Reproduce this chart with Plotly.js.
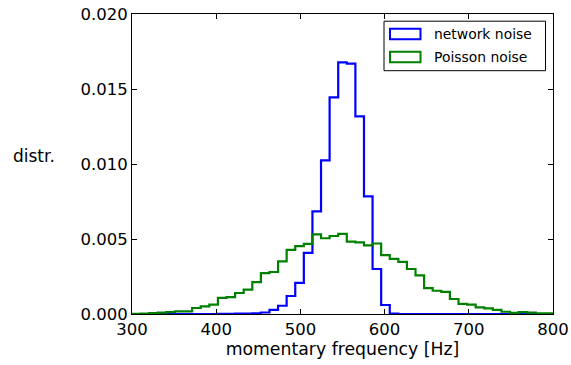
<!DOCTYPE html>
<html>
<head>
<meta charset="utf-8">
<script src="https://cdn.plot.ly/plotly-3.0.1.min.js"></script>
<style>html,body{margin:0;padding:0;background:#fff;}#chart{width:571px;height:365px;}</style>
</head>
<body>
<div id="chart"></div>
<script>
// Histogram bins: 49 equal bins between 300 and 800 Hz
var binStart = 300;
var binEnd = 800;
var binCount = 49;

// Normalised counts per bin
var networkNoise = [
  0, 0, 0, 0, 0, 0, 0, 0, 0, 0,
  0.00001, 0.00001, 0.00002, 0.00002, 0.00004,
  0.00010, 0.00027, 0.00055, 0.00120, 0.00207,
  0.00407, 0.00684, 0.01024, 0.01444, 0.01677,
  0.01669, 0.01317, 0.00784, 0.00300, 0.00060,
  0.00002, 0, 0, 0, 0, 0, 0, 0, 0, 0,
  0, 0, 0, 0, 0, 0, 0, 0, 0
];
var poissonNoise = [
  0.00001, 0.00002, 0.00006, 0.00009, 0.00013, 0.00018, 0.00018, 0.00040, 0.00051, 0.00062,
  0.00107, 0.00113, 0.00140, 0.00162, 0.00213, 0.00273, 0.00280, 0.00351, 0.00427, 0.00452,
  0.00467, 0.00531, 0.00505, 0.00520, 0.00534, 0.00482, 0.00477, 0.00457, 0.00470, 0.00393,
  0.00367, 0.00347, 0.00300, 0.00257, 0.00173, 0.00155, 0.00147, 0.00100, 0.00067, 0.00062,
  0.00044, 0.00037, 0.00027, 0.00015, 0.00007, 0.00013, 0.00009, 0.00004, 0.00004
];
var seriesNames = ["network noise", "Poisson noise"];
var xTicks = [300, 400, 500, 600, 700, 800];
var yTicks = [0, 0.005, 0.010, 0.015, 0.020];

var binWidth = (binEnd - binStart) / binCount;
var edges = [];
for (var i = 0; i <= binCount; i++) edges.push(binStart + i * binWidth);

function stepOutline(vals) {
  var xs = [edges[0]], ys = [0];
  for (var k = 0; k < vals.length; k++) { xs.push(edges[k]); ys.push(vals[k]); }
  xs.push(edges[vals.length]); ys.push(vals[vals.length - 1]);
  xs.push(edges[vals.length]); ys.push(0);
  return {x: xs, y: ys};
}

var colors = ["#0000ff", "#008000"];
var s1 = stepOutline(networkNoise), s2 = stepOutline(poissonNoise);
var traces = [
  {x: s1.x, y: s1.y, type: "scatter", mode: "lines", line: {shape: "hv", color: colors[0], width: 2.2}, name: seriesNames[0], showlegend: false, hoverinfo: "skip"},
  {x: s2.x, y: s2.y, type: "scatter", mode: "lines", line: {shape: "hv", color: colors[1], width: 2.2}, name: seriesNames[1], showlegend: false, hoverinfo: "skip"}
];

// plot area in pixels
var L = 132, R = 553, T = 14.3, B = 314.3;
function px(x) { return (x - L) / (R - L); }
function py(y) { return (B - y) / (B - T); }

var font = "DejaVu Sans, sans-serif";
var shapes = [
  {type: "rect", xref: "paper", yref: "paper", x0: px(384), x1: px(545.5), y0: py(71), y1: py(21.5), line: {color: "#000", width: 1}, fillcolor: "#fff", layer: "above"},
  {type: "rect", xref: "paper", yref: "paper", x0: px(390), x1: px(420.5), y0: py(39.5), y1: py(29), line: {color: colors[0], width: 2}, fillcolor: "rgba(0,0,0,0)", layer: "above"},
  {type: "rect", xref: "paper", yref: "paper", x0: px(390), x1: px(420.5), y0: py(62.5), y1: py(52), line: {color: colors[1], width: 2}, fillcolor: "rgba(0,0,0,0)", layer: "above"}
];
var annotations = [
  {xref: "paper", yref: "paper", x: px(431.5), y: py(34.5), text: seriesNames[0], showarrow: false, xanchor: "left", yanchor: "middle", font: {family: font, size: 13.9, color: "#000"}},
  {xref: "paper", yref: "paper", x: px(431.5), y: py(57.5), text: seriesNames[1], showarrow: false, xanchor: "left", yanchor: "middle", font: {family: font, size: 13.9, color: "#000"}},
  {xref: "paper", yref: "paper", x: px(34), y: py(156.5), text: "distr.", showarrow: false, xanchor: "center", yanchor: "middle", font: {family: font, size: 17, color: "#000"}}
];

var layout = {
  width: 571, height: 365,
  margin: {l: L, r: 571 - R, t: T, b: 365 - B},
  paper_bgcolor: "#fff", plot_bgcolor: "#fff",
  showlegend: false,
  font: {family: font, size: 16.5, color: "#000"},
  xaxis: {
    range: [300, 800], tickvals: xTicks, ticktext: xTicks.map(String),
    ticks: "inside", ticklen: 5, tickwidth: 1, tickcolor: "#000",
    showline: true, linecolor: "#000", linewidth: 1, mirror: "ticks",
    showgrid: false, zeroline: false,
    tickfont: {family: font, size: 16.5, color: "#000"},
    title: {text: "momentary frequency [Hz]", font: {family: font, size: 17.3, color: "#000"}, standoff: 4}
  },
  yaxis: {
    range: [0, 0.02], tickvals: yTicks, ticktext: yTicks.map(function(v){return v.toFixed(3);}),
    ticks: "inside", ticklen: 5, tickwidth: 1, tickcolor: "#000",
    showline: true, linecolor: "#000", linewidth: 1, mirror: "ticks",
    showgrid: false, zeroline: false,
    tickfont: {family: font, size: 16.5, color: "#000"}
  },
  shapes: shapes,
  annotations: annotations
};

Plotly.newPlot("chart", traces, layout, {staticPlot: true, displayModeBar: false});
</script>
</body>
</html>
